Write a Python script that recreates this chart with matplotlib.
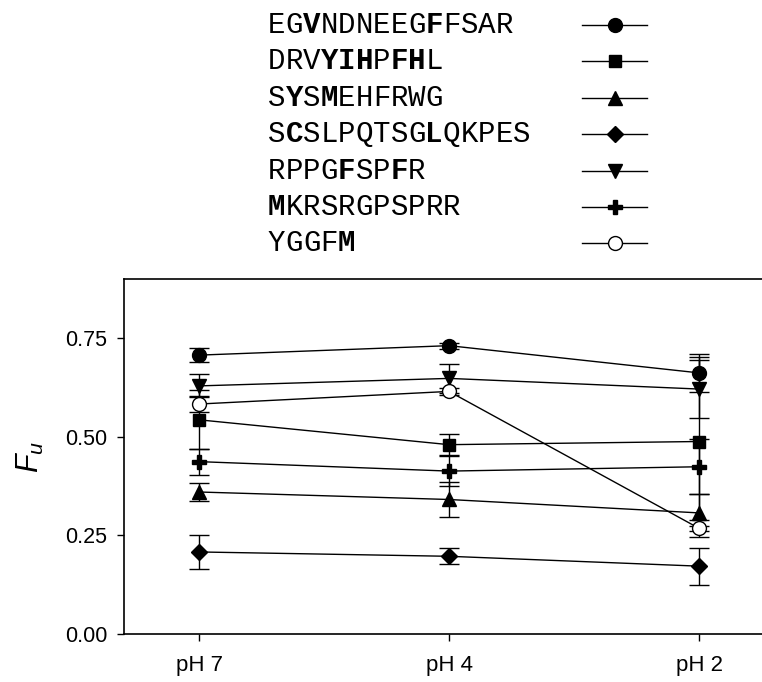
import re
import matplotlib
matplotlib.use('Agg')
import matplotlib.pyplot as plt

plt.rcParams['font.family'] = ['Liberation Sans', 'DejaVu Sans']
plt.rcParams['mathtext.fontset'] = 'custom'
plt.rcParams['mathtext.it'] = 'Liberation Sans:italic'
plt.rcParams['mathtext.rm'] = 'Liberation Sans'

# data
conditions = ['pH 7', 'pH 4', 'pH 2']

# peptide labels, [..] = bold residues
peptides = ['EG[V]NDNEEG[F]FSAR',
            'DRV[YIH]P[FH]L',
            'S[Y]S[M]EHFRWG',
            'S[C]SLPQTSG[L]QKPES',
            'RPPG[F]SP[F]R',
            '[M]KRSRGPSPRR',
            'YGGF[M]']

fu_egv = [0.707, 0.731, 0.662]
err_egv = [0.017, 0.008, 0.049]
fu_drv = [0.543, 0.480, 0.488]
err_drv = [0.075, 0.027, 0.215]
fu_sys = [0.360, 0.341, 0.307]
err_sys = [0.022, 0.045, 0.047]
fu_scs = [0.208, 0.197, 0.172]
err_scs = [0.044, 0.020, 0.047]
fu_rpp = [0.629, 0.648, 0.621]
err_rpp = [0.029, 0.037, 0.074]
fu_mkr = [0.437, 0.413, 0.424]
err_mkr = [0.033, 0.038, 0.070]
fu_ygg = [0.583, 0.615, 0.268]
err_ygg = [0.020, 0.008, 0.022]

series = [(fu_egv, err_egv, 'o', 'k', 10),
          (fu_drv, err_drv, 's', 'k', 9),
          (fu_sys, err_sys, '^', 'k', 10),
          (fu_scs, err_scs, 'D', 'k', 8.5),
          (fu_rpp, err_rpp, 'v', 'k', 10),
          (fu_mkr, err_mkr, 'P', 'k', 9.5),
          (fu_ygg, err_ygg, 'o', 'w', 10)]

W, H = 762, 682
fig = plt.figure(figsize=(W / 100, H / 100), dpi=100)

# main axes (right side runs off the picture like the original)
ax = fig.add_axes([124 / W, (H - 634) / H, 650 / W, 355 / H])
xs = list(range(len(conditions)))
for y, e, m, fc, ms in series:
    ax.errorbar(xs, y, yerr=e, fmt='-', marker=m, color='k', mfc=fc, mec='k',
                ms=ms, lw=1.0, elinewidth=1.0, capsize=7, capthick=1.0, mew=1.0)

ax.set_xlim(-0.3, 2.3)
ax.set_ylim(0, 0.9)
ax.set_xticks(xs)
ax.set_xticklabels(conditions)
ax.set_yticks([0, 0.25, 0.5, 0.75])
ax.set_yticklabels(['0.00', '0.25', '0.50', '0.75'])
ax.tick_params(direction='out', length=5, width=1, labelsize=15.5)
ax.tick_params(axis='x', pad=10, labelsize=16)
ax.tick_params(axis='y', pad=7)
ax.spines['right'].set_visible(False)
for s in ['left', 'top', 'bottom']:
    ax.spines[s].set_linewidth(1.2)
ax.set_ylabel('$F_u$', fontsize=22, labelpad=14)

# legend above the axes, drawn in a pixel-scaled overlay
lax = fig.add_axes([0, 0, 1, 1])
lax.set_xlim(0, W)
lax.set_ylim(H, 0)
lax.axis('off')

fs = 21
adv = 0.6 * fs * 100 / 72
for i, (lab, (y, e, m, fc, ms)) in enumerate(zip(peptides, series)):
    row = 25 + i * 36.4
    lax.plot([582, 647], [row, row], color='k', lw=1.0)
    lax.plot([615], [row], marker=m, color='k', mfc=fc, mec='k', ms=ms, mew=1.0)
    k = 0
    for part in re.split(r'(\[[A-Z]+\])', lab):
        bold = part.startswith('[')
        for ch in part.strip('[]'):
            lax.text(268 + k * adv, row, ch, family='Liberation Mono', fontsize=fs,
                     fontweight='bold' if bold else 'normal', va='center', ha='left')
            k += 1

fig.savefig('out.png', dpi=100)
